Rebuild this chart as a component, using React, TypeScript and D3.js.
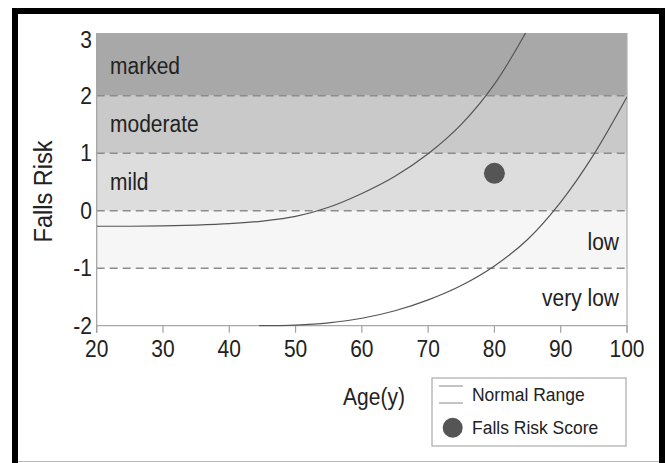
import React from "react";
import * as d3 from "d3";

const xTicks = [20, 30, 40, 50, 60, 70, 80, 90, 100];
const yTicks = [3, 2, 1, 0, -1, -2];
const dashedLevels = [2, 1, 0, -1];

const bandNames = ["marked", "moderate", "mild", "low", "very low"];
const bandLow = [2, 1, 0, -1, -2];
const bandHigh = [3.09, 2, 1, 0, -1];
const bandFill = ["#a8a8a8", "#c9c9c9", "#dddddd", "#f6f6f6", "#ffffff"];

// upper normal range curve (age, value)
const upperAge = [20, 25, 30, 35, 40, 45, 50, 55, 60, 65, 70, 75, 80, 84.7];
const upperVal = [-0.27, -0.27, -0.265, -0.25, -0.225, -0.18, -0.1, 0.06, 0.3, 0.6, 0.99, 1.5, 2.2, 3.09];
// lower normal range curve
const lowerAge = [44.5, 50, 55, 60, 65, 70, 75, 80, 85, 90, 95, 100];
const lowerVal = [-2, -1.99, -1.95, -1.87, -1.74, -1.55, -1.3, -0.96, -0.5, 0.15, 0.98, 1.98];

const scoreAge = [80];
const scoreVal = [0.65];

const FONT = "'Liberation Sans', Arial, Helvetica, sans-serif";

function T(props: {
  x: number;
  y: number;
  size: number;
  anchor?: string;
  sy?: number;
  children: React.ReactNode;
}) {
  const sy = props.sy ?? 1.1;
  return (
    <text
      transform={`translate(${props.x},${props.y}) scale(1,${sy})`}
      fontSize={props.size}
      textAnchor={props.anchor || "start"}
      fill="#222"
    >
      {props.children}
    </text>
  );
}

export default function App() {
  const x = d3.scaleLinear().domain([20, 100]).range([96.7, 627]);
  const y = d3.scaleLinear().domain([-2, 2]).range([325.7, 95.7]);
  const line = d3
    .line<[number, number]>()
    .x((d) => x(d[0]))
    .y((d) => y(d[1]))
    .curve(d3.curveCatmullRom.alpha(0.5));
  const upper = upperAge.map((a, i) => [a, upperVal[i]] as [number, number]);
  const lower = lowerAge.map((a, i) => [a, lowerVal[i]] as [number, number]);
  const x0 = x(20);
  const x1 = x(100);
  const yTop = y(3.09);

  return (
    <svg
      width={665}
      height={463}
      style={{ position: "absolute", left: 0, top: 0, background: "#fff" }}
      fontFamily={FONT}
    >
      <rect x={0} y={0} width={665} height={463} fill="#fff" />
      {/* frame */}
      <rect x={12} y={8} width={652} height={6} fill="#000" />
      <rect x={12} y={8} width={6} height={455} fill="#000" />
      <rect x={659} y={8} width={6} height={455} fill="#000" />
      <line x1={18} x2={659} y1={461.5} y2={461.5} stroke="#bbb" strokeWidth={1} />

      <defs>
        <clipPath id="plot">
          <rect x={x0} y={yTop} width={x1 - x0} height={y(-2) - yTop + 1} />
        </clipPath>
      </defs>

      {/* bands */}
      {bandNames.map((n, i) => (
        <rect
          key={n}
          x={x0}
          y={y(bandHigh[i])}
          width={x1 - x0}
          height={y(bandLow[i]) - y(bandHigh[i])}
          fill={bandFill[i]}
        />
      ))}
      {dashedLevels.map((v) => (
        <line
          key={v}
          x1={x0}
          x2={x1}
          y1={y(v)}
          y2={y(v)}
          stroke="#8c8c8c"
          strokeWidth={1.4}
          strokeDasharray="8,5"
        />
      ))}

      {/* axes */}
      <line x1={x0} x2={x0} y1={yTop} y2={y(-2) + 7} stroke="#a0a0a0" strokeWidth={1.2} />
      <line x1={x1} x2={x1} y1={yTop} y2={y(-2) + 7} stroke="#b0b0b0" strokeWidth={1.2} />
      <line x1={x0} x2={x1} y1={y(-2)} y2={y(-2)} stroke="#a8a8a8" strokeWidth={1.2} />
      {xTicks.map((t) => (
        <g key={t}>
          <line x1={x(t)} x2={x(t)} y1={y(-2)} y2={y(-2) + 7} stroke="#a0a0a0" strokeWidth={1.2} />
          <T x={x(t)} y={357} size={21} anchor="middle">
            {t}
          </T>
        </g>
      ))}
      {yTicks.map((t) => (
        <T key={t} x={92} y={y(t) + (t === 3 ? 10 : 8)} size={21} anchor="end">
          {t}
        </T>
      ))}

      {/* band labels */}
      <T x={110} y={73.5} size={21}>{bandNames[0]}</T>
      <T x={110} y={131.5} size={21}>{bandNames[1]}</T>
      <T x={110} y={190} size={21}>{bandNames[2]}</T>
      <T x={619} y={250} size={21} anchor="end">{bandNames[3]}</T>
      <T x={619} y={306} size={21} anchor="end">{bandNames[4]}</T>

      {/* curves */}
      <g clipPath="url(#plot)">
        <path d={line(upper) || ""} fill="none" stroke="#555" strokeWidth={1.2} />
        <path d={line(lower) || ""} fill="none" stroke="#555" strokeWidth={1.2} />
      </g>

      {/* score */}
      {scoreAge.map((a, i) => (
        <circle key={i} cx={x(a)} cy={y(scoreVal[i])} r={10.5} fill="#555" />
      ))}

      {/* axis titles */}
      <text
        transform={`translate(52,191.5) rotate(-90) scale(1,1.1)`}
        textAnchor="middle"
        fontSize={23.5}
        fill="#222"
      >
        Falls Risk
      </text>
      <T x={374} y={405} size={21} anchor="middle">
        Age(y)
      </T>

      {/* legend */}
      <rect x={432} y={378} width={194} height={68} fill="#fff" stroke="#999" strokeWidth={1} />
      <line x1={439} x2={463} y1={386} y2={386} stroke="#888" strokeWidth={1} />
      <line x1={439} x2={463} y1={403} y2={403} stroke="#888" strokeWidth={1} />
      <T x={472} y={401} size={17.5}>Normal Range</T>
      <circle cx={452.7} cy={427.7} r={10} fill="#555" />
      <T x={472} y={434} size={17.5}>Falls Risk Score</T>
    </svg>
  );
}
